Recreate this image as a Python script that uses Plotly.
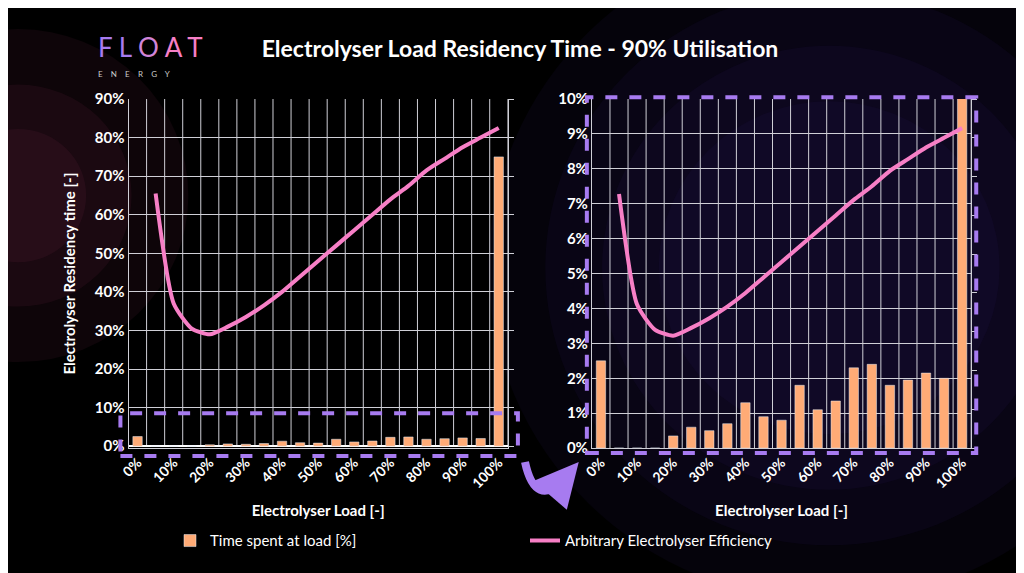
import plotly.graph_objects as go

loads = list(range(0, 101, 5))
load_labels = [f"<b>{v}%</b>" for v in loads]
# time spent at each load [%]
time_at_load = [2.5, 0, 0, 0, 0.35, 0.6, 0.5, 0.7, 1.3, 0.9, 0.8, 1.8, 1.1, 1.35, 2.3, 2.4, 1.8, 1.95, 2.15, 2.0, 75.0]
# arbitrary efficiency [%]
eff_loads = loads[1:]
efficiency = [65.5, 37, 30.5, 29, 31, 33.5, 36.5, 40, 44, 48, 52, 56, 60, 64, 67.5, 71.5, 74.5, 77.5, 80, 82.5]
left_ticks = list(range(0, 91, 10))
right_ticks = list(range(0, 11))

BAR = '#ffab76'
LINE = '#f77fc6'
PURPLE = '#a77bf0'
GRID = '#cfcfd6'

fig = go.Figure()

# glow background
for r in [0.6, 0.5, 0.4, 0.3]:
    fig.add_shape(type='circle', xref='paper', yref='paper', layer='below',
                  x0=0.8 - r * 0.56, x1=0.8 + r * 0.56, y0=0.55 - r, y1=0.55 + r,
                  fillcolor='#3a1d7a', opacity=0.09, line=dict(width=0))
for r in [0.3, 0.2, 0.12]:
    fig.add_shape(type='circle', xref='paper', yref='paper', layer='below',
                  x0=-r * 0.56, x1=r * 0.56, y0=0.68 - r, y1=0.68 + r,
                  fillcolor='#c0407a', opacity=0.07, line=dict(width=0))

for xa, ya, ya2, show in [('x', 'y', 'y2', True), ('x2', 'y3', 'y4', False)]:
    fig.add_trace(go.Bar(x=loads, y=time_at_load, marker_color=BAR, width=2.6,
                         name='Time spent at load [%]', showlegend=show,
                         xaxis=xa, yaxis=ya))
    fig.add_trace(go.Scatter(x=eff_loads, y=efficiency, mode='lines',
                             line=dict(color=LINE, width=4, shape='spline', smoothing=0.6),
                             name='Arbitrary Electrolyser Efficiency', showlegend=show,
                             xaxis=xa, yaxis=ya2))

xcommon = dict(range=[-2.5, 102.5], tickvals=loads[::2], ticktext=load_labels[::2],
               tickangle=-45, showgrid=False, showline=True, linecolor=GRID,
               tickfont=dict(color='white', size=14, family='Lato'),
               title_font=dict(color='white', size=15, family='Lato'))
ytick = dict(color='white', size=15, family='Lato')
fig.update_layout(
    width=1024, height=573,
    paper_bgcolor='#000000', plot_bgcolor='rgba(0,0,0,0)',
    margin=dict(l=0, r=0, t=0, b=0),
    font=dict(family='Lato', color='white'),
    title=dict(text='<b>Electrolyser Load Residency Time - 90% Utilisation</b>',
               x=0.5, y=0.929, xanchor='center', yanchor='middle',
               font=dict(size=23, color='white', family='Lato')),
    xaxis=dict(domain=[0.109, 0.483], anchor='y', title_text='<b>Electrolyser Load [-]</b>', **xcommon),
    xaxis2=dict(domain=[0.566, 0.940], anchor='y3', title_text='<b>Electrolyser Load [-]</b>', **xcommon),
    yaxis=dict(domain=[0.225, 0.854], range=[-0.5, 90], tickvals=left_ticks,
               ticktext=[f"<b>{v}%</b>" for v in left_ticks], gridcolor=GRID, zeroline=False,
               showline=True, linecolor=GRID, tickfont=ytick,
               title=dict(text='<b>Electrolyser Residency time [-]</b>', font=dict(size=15, color='white'))),
    yaxis2=dict(overlaying='y', side='right', anchor='x', range=[-0.5, 90], showgrid=False,
                showticklabels=False, ticks='outside', ticklen=5, tickcolor=GRID,
                tickvals=left_ticks, showline=True, linecolor=GRID),
    yaxis3=dict(domain=[0.225, 0.854], anchor='x2', range=[0, 10], tickvals=right_ticks,
                ticktext=[f"<b>{v}%</b>" for v in right_ticks], gridcolor=GRID, zeroline=False,
                showline=True, linecolor=GRID, tickfont=ytick),
    yaxis4=dict(overlaying='y3', side='right', anchor='x2', range=[0, 90], showgrid=False,
                showticklabels=False, ticks='outside', ticklen=5, tickcolor=GRID,
                tickvals=left_ticks, showline=True, linecolor=GRID),
    legend=dict(orientation='h', x=0.5, xanchor='center', y=0.058, yanchor='middle',
                font=dict(size=15, color='white', family='Lato'), bgcolor='rgba(0,0,0,0)',
                entrywidth=310),
)

# vertical grid at every load step
for xr, yr in [('x', 'y'), ('x2', 'y3')]:
    top = 90 if yr == 'y' else 10
    for v in loads:
        fig.add_shape(type='line', xref=xr, yref=yr, x0=v + 2.5, x1=v + 2.5, y0=0, y1=top,
                      line=dict(color=GRID, width=1), layer='below')

# dashed zoom boxes
fig.add_shape(type='rect', xref='paper', yref='paper', x0=0.101, x1=0.493, y0=0.211, y1=0.288,
              line=dict(color=PURPLE, width=4, dash='dash'))
fig.add_shape(type='rect', xref='paper', yref='paper', x0=0.561, x1=0.945, y0=0.216, y1=0.857,
              line=dict(color=PURPLE, width=4, dash='dash'))
fig.add_shape(type='path', xref='paper', yref='paper',
              path='M 0.500,0.20 Q 0.51,0.115 0.54,0.17',
              line=dict(color=PURPLE, width=8))
fig.add_annotation(xref='paper', yref='paper', x=0.553, y=0.2, ax=-12, ay=14,
                   showarrow=True, arrowhead=2,
                   arrowsize=1.1, arrowwidth=8, arrowcolor=PURPLE, text='')

# logo
fig.add_annotation(xref='paper', yref='paper', x=0.077, y=0.98, showarrow=False,
                   text="<span style='color:#a77bf0'>F L</span> <span style='color:#d084d8'>O</span> <span style='color:#f77fc6'>A T</span>",
                   font=dict(size=26, family='Lato'))
fig.add_annotation(xref='paper', yref='paper', x=0.077, y=0.912, showarrow=False,
                   text='E    N    E    R    G    Y', font=dict(size=8, color='#cccccc', family='Lato'))

fig.write_html("out.html")
